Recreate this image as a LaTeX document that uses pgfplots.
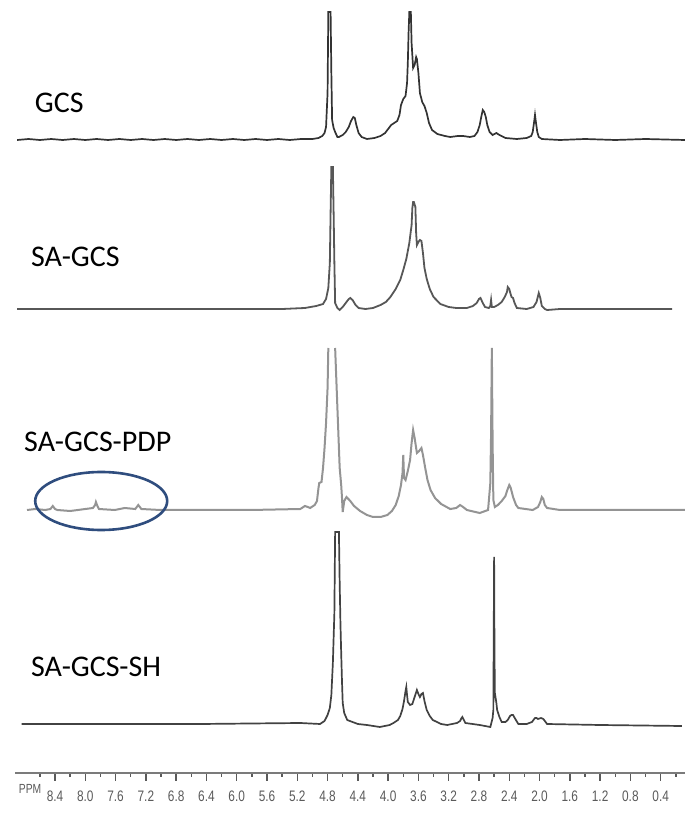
\documentclass[border=0pt]{standalone}
\usepackage{pgfplots}
\pgfplotsset{compat=1.18}
\usepackage{fontspec}
\setmainfont{Carlito}
\newfontfamily\tickfont[FakeStretch=0.78]{Liberation Sans}
\definecolor{ellblue}{HTML}{2F4D7E}
\definecolor{axgray}{HTML}{5A5A5A}
\begin{document}
\begin{tikzpicture}
\begin{axis}[
  scale only axis, width=335pt, height=386.5pt,
  xmin=0.08, xmax=8.93, x dir=reverse,
  ymin=0, ymax=773,
  axis x line*=bottom, axis y line=none,
  axis line style={draw=axgray!80, line width=1pt, -},
  xtick={0.4,0.8,1.2,1.6,2.0,2.4,2.8,3.2,3.6,4.0,4.4,4.8,5.2,5.6,6.0,6.4,6.8,7.2,7.6,8.0,8.4},
  xticklabels={0.4,0.8,1.2,1.6,2.0,2.4,2.8,3.2,3.6,4.0,4.4,4.8,5.2,5.6,6.0,6.4,6.8,7.2,7.6,8.0,8.4},
  minor xtick={0.2,0.6,1.0,1.4,1.8,2.2,2.6,3.0,3.4,3.8,4.2,4.6,5.0,5.4,5.8,6.2,6.6,7.0,7.4,7.8,8.2,8.6},
  tick align=outside,
  major tick length=3.8pt, minor tick length=2pt,
  every tick/.style={axgray, line width=0.7pt},
  xticklabel style={font=\tickfont\fontsize{7.6}{8}\selectfont, text=axgray, yshift=-1.5pt},
  ytick=\empty,
  clip=false,
  unbounded coords=jump,
]
\path (axis cs:9.127,773) rectangle (axis cs:0.051,-43);
% GCS
\addplot[color=black!80, line width=0.85pt] coordinates {
(8.90,633) (8.75,634) (8.60,633) (8.45,634) (8.30,633) (8.15,634) (8.00,633) (7.85,634) (7.70,633) (7.55,634) (7.40,633) (7.25,634) (7.10,633) (6.95,634) (6.80,633) (6.65,634) (6.50,633) (6.35,634) (6.20,633) (6.05,634) (5.90,633) (5.75,634) (5.60,633) (5.45,634) (5.30,633) (5.15,634) (5.00,634)
(4.92,635) (4.87,637) (4.84,640) (4.82,646) (4.80,680) (4.79,761) (4.76,761) (4.75,700) (4.74,653) (4.72,645) (4.70,641) (4.67,636) (4.65,636)
(4.60,638) (4.56,641) (4.52,646) (4.49,652) (4.46,656) (4.44,655) (4.42,648) (4.39,640) (4.35,636) (4.28,634) (4.18,635)
(4.10,637) (4.04,640) (4.00,644) (3.96,648) (3.92,650) (3.88,652) (3.85,658) (3.83,668) (3.80,674) (3.77,677) (3.75,690) (3.74,710)
(3.73,740) (3.72,761) (3.70,761) (3.69,730) (3.67,705) (3.65,708) (3.63,716) (3.62,714) (3.60,700)
(3.58,680) (3.55,671) (3.52,667) (3.49,660) (3.46,650) (3.42,643) (3.35,639) (3.25,637) (3.18,636) (3.08,637) (3.01,637)
(2.92,636) (2.86,637) (2.82,641) (2.79,648) (2.77,656) (2.75,663) (2.73,661) (2.71,656) (2.69,648) (2.66,641) (2.62,638) (2.57,640) (2.53,638)
(2.45,635) (2.30,634) (2.17,635) (2.11,637) (2.09,641) (2.07,652) (2.06,658) (2.05,652) (2.03,641) (2.01,636) (1.97,634) (1.73,633)
(1.40,634) (1.00,633) (0.60,634) (0.08,633)
};
% SA-GCS
\addplot[color=black!66, line width=0.9pt] coordinates {
(8.90,464) (5.40,464) (5.10,465) (4.95,467) (4.86,469) (4.82,474) (4.79,485) (4.77,510) (4.76,560) (4.75,606) (4.73,606) (4.72,560) (4.71,510)
(4.70,470) (4.67,465) (4.64,463) (4.60,466) (4.56,470) (4.52,474) (4.50,475) (4.47,473) (4.43,468) (4.39,465) (4.30,464) (4.20,465)
(4.10,468) (4.03,471) (3.97,476) (3.90,484) (3.84,493) (3.80,503) (3.76,514) (3.72,530) (3.69,548) (3.68,565) (3.67,571) (3.66,571) (3.64,566)
(3.63,540) (3.62,528) (3.60,531) (3.58,533) (3.56,532) (3.54,520) (3.52,505) (3.49,494) (3.45,484) (3.40,476) (3.31,469) (3.20,466) (3.10,465) (2.96,465)
(2.88,467) (2.83,470) (2.80,474) (2.78,475) (2.75,470) (2.72,466) (2.67,465) (2.65,467) (2.64,473) (2.63,466) (2.60,466) (2.55,468) (2.50,471)
(2.46,476) (2.43,481) (2.42,486) (2.40,484) (2.39,481) (2.37,476) (2.35,475) (2.33,470) (2.30,465)
(2.17,464) (2.08,466) (2.04,471) (2.02,477) (2.01,480) (1.99,475) (1.97,467) (1.93,464) (1.90,463) (1.73,464) (0.25,464)
};
% SA-GCS-PDP
\addplot[color=black!42, line width=1pt] coordinates {
(8.77,263) (8.66,264) (8.53,263) (8.46,264) (8.43,267) (8.40,264) (8.37,263) (8.20,262) (8.00,264)
(7.90,265) (7.87,268) (7.86,271) (7.84,267) (7.82,264) (7.61,263) (7.48,265) (7.34,264) (7.31,267) (7.30,268)
(7.28,266) (7.26,264) (7.01,263) (6.48,263) (5.82,263) (5.16,264) (5.10,267) (5.06,266) (5.03,265)
(4.97,268) (4.94,272) (4.92,285) (4.91,290) (4.88,291) (4.86,305) (4.84,325) (4.82,350) (4.80,385) (4.79,425)
(4.75,nan)
(4.70,425) (4.68,385) (4.66,345) (4.64,305) (4.62,288) (4.61,276) (4.60,261) (4.58,272) (4.55,276) (4.50,272)
(4.45,267) (4.37,262) (4.28,258) (4.20,256) (4.10,256) (4.01,258) (3.95,262) (3.90,268) (3.86,277) (3.83,288) (3.81,300)
(3.80,318) (3.79,295) (3.77,293) (3.74,302) (3.71,313) (3.69,330) (3.67,343) (3.65,335) (3.62,320) (3.59,322) (3.56,325)
(3.54,318) (3.51,305) (3.48,293) (3.44,283) (3.38,275) (3.30,269) (3.18,264) (3.10,265) (3.05,268) (3.01,266)
(2.96,263) (2.79,260) (2.68,263) (2.65,290) (2.64,340) (2.63,425) (2.62,330)
(2.61,273) (2.59,266) (2.55,268) (2.50,272) (2.45,277) (2.43,282) (2.40,288) (2.38,285) (2.35,276) (2.31,268) (2.28,265)
(2.09,263) (2.02,266) (1.99,271) (1.97,276) (1.95,274) (1.93,268) (1.90,265) (1.73,263) (0.08,263)
};
% SA-GCS-SH
\addplot[color=black!74, line width=0.85pt] coordinates {
(8.84,49) (6.48,49) (5.16,50) (4.90,49) (4.84,52) (4.80,58) (4.77,65) (4.75,78) (4.73,110) (4.71,160)
(4.70,241) (4.65,241) (4.64,190) (4.63,150) (4.62,120) (4.61,93) (4.60,70) (4.58,60) (4.54,53)
(4.40,49) (4.28,48) (4.11,46) (3.98,48) (3.93,50) (3.87,53) (3.84,57) (3.81,64) (3.79,72) (3.77,82) (3.76,86) (3.75,78) (3.74,71)
(3.71,68) (3.68,69) (3.65,76) (3.62,83) (3.60,79) (3.58,76) (3.56,79) (3.54,80) (3.52,72) (3.49,63) (3.45,57) (3.41,53) (3.30,49) (3.22,48)
(3.09,50) (3.05,52) (3.03,55) (3.02,56) (3.00,53) (2.98,50) (2.79,48) (2.65,46) (2.62,55) (2.61,63) (2.605,140) (2.60,216)
(2.595,120) (2.59,80) (2.57,70) (2.56,63) (2.53,56) (2.50,51) (2.45,51) (2.42,53) (2.39,57) (2.37,58) (2.35,58) (2.32,54) (2.28,49)
(2.17,49) (2.10,51) (2.06,55) (2.04,55) (2.02,54) (1.98,55) (1.95,54) (1.92,51) (1.90,49) (1.20,48) (0.12,47)
};
\node[anchor=base west, font=\fontsize{15}{18}\selectfont] at (axis cs:8.76,660) {GCS};
\node[anchor=base west, font=\fontsize{15}{18}\selectfont] at (axis cs:8.81,506) {SA-GCS};
\node[anchor=base west, font=\fontsize{15}{18}\selectfont] at (axis cs:8.90,321) {SA-GCS-PDP};
\node[anchor=base west, font=\fontsize{15}{18}\selectfont] at (axis cs:8.81,97) {SA-GCS-SH};
\draw[ellblue, line width=1.3pt] (axis cs:7.79,272) ellipse [x radius=33pt, y radius=14.5pt];
\node[anchor=north, font=\tickfont\fontsize{6.6}{7}\selectfont, text=axgray, yshift=-2pt] at (axis cs:8.73,0) {PPM};
\end{axis}
\end{tikzpicture}
\end{document}
